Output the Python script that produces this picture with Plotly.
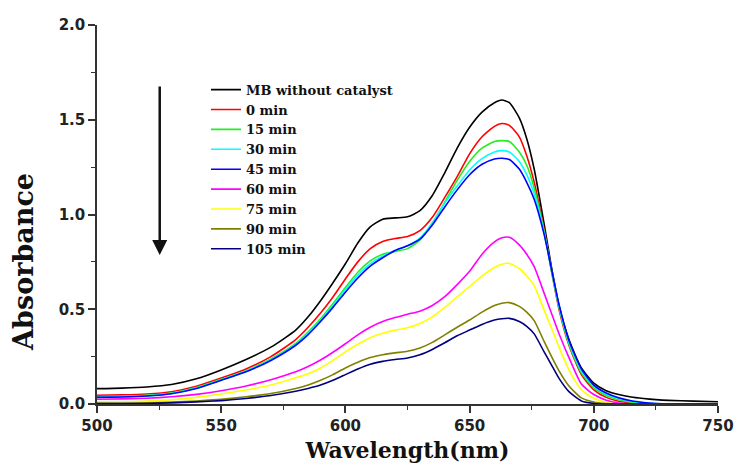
import plotly.graph_objects as go

wavelength = [500, 510, 520, 530, 540, 550, 560, 570, 580, 585, 590, 595, 600, 605, 610, 615,
              620, 625, 630, 635, 640, 645, 650, 655, 660, 663, 666, 670, 673, 676, 680, 683,
              686, 690, 695, 700, 705, 710, 715, 720, 725, 730, 740, 750]

mb_without_catalyst = [0.081, 0.084, 0.090, 0.103, 0.133, 0.18, 0.235, 0.30, 0.39, 0.46, 0.545, 0.64,
                       0.74, 0.85, 0.935, 0.975, 0.982, 0.988, 1.02, 1.10, 1.22, 1.35, 1.46, 1.54,
                       1.59, 1.604, 1.59, 1.51, 1.40, 1.24, 0.95, 0.72, 0.52, 0.34, 0.19, 0.11,
                       0.07, 0.05, 0.037, 0.029, 0.023, 0.019, 0.015, 0.012]
min_0 = [0.046, 0.048, 0.053, 0.065, 0.094, 0.137, 0.185, 0.25, 0.34, 0.405, 0.48, 0.565,
         0.66, 0.75, 0.82, 0.858, 0.873, 0.884, 0.915, 0.985, 1.09, 1.20, 1.32, 1.41,
         1.465, 1.48, 1.47, 1.41, 1.31, 1.17, 0.92, 0.70, 0.50, 0.31, 0.155, 0.075,
         0.035, 0.015, 0.006, 0.002, 0.0, 0.0, 0.0, 0.0]
min_15 = [0.039, 0.041, 0.046, 0.058, 0.087, 0.13, 0.176, 0.238, 0.32, 0.38, 0.45, 0.53,
          0.615, 0.695, 0.755, 0.79, 0.805, 0.82, 0.865, 0.955, 1.065, 1.18, 1.28, 1.35,
          1.385, 1.39, 1.385, 1.33, 1.26, 1.14, 0.91, 0.70, 0.51, 0.315, 0.165, 0.085,
          0.045, 0.022, 0.009, 0.003, 0.0, 0.0, 0.0, 0.0]
min_30 = [0.036, 0.038, 0.043, 0.055, 0.084, 0.127, 0.173, 0.234, 0.315, 0.373, 0.442, 0.52,
          0.603, 0.68, 0.74, 0.78, 0.81, 0.835, 0.875, 0.955, 1.06, 1.15, 1.235, 1.295,
          1.33, 1.337, 1.33, 1.28, 1.21, 1.11, 0.905, 0.705, 0.515, 0.325, 0.175, 0.095,
          0.053, 0.03, 0.015, 0.006, 0.002, 0.0, 0.0, 0.0]
min_45 = [0.035, 0.037, 0.042, 0.054, 0.082, 0.125, 0.17, 0.23, 0.31, 0.366, 0.435, 0.51,
          0.59, 0.665, 0.728, 0.772, 0.81, 0.835, 0.87, 0.945, 1.04, 1.13, 1.21, 1.265,
          1.293, 1.297, 1.29, 1.24, 1.17, 1.08, 0.895, 0.71, 0.525, 0.335, 0.185, 0.10,
          0.058, 0.033, 0.017, 0.008, 0.003, 0.0, 0.0, 0.0]
min_60 = [0.025, 0.027, 0.030, 0.038, 0.051, 0.07, 0.095, 0.128, 0.17, 0.198, 0.232, 0.273,
          0.318, 0.365, 0.405, 0.435, 0.456, 0.474, 0.49, 0.52, 0.566, 0.63, 0.70, 0.79,
          0.855, 0.877, 0.88, 0.84, 0.79, 0.725, 0.585, 0.478, 0.371, 0.245, 0.105, 0.05,
          0.02, 0.005, 0.0, 0.0, 0.0, 0.0, 0.0, 0.0]
min_75 = [0.011, 0.012, 0.015, 0.022, 0.035, 0.053, 0.074, 0.10, 0.138, 0.16, 0.19, 0.23,
          0.275, 0.315, 0.35, 0.373, 0.39, 0.402, 0.425, 0.46, 0.51, 0.565, 0.62, 0.675,
          0.72, 0.738, 0.742, 0.715, 0.675, 0.625, 0.495, 0.40, 0.30, 0.18, 0.075, 0.03,
          0.008, 0.0, 0.0, 0.0, 0.0, 0.0, 0.0, 0.0]
min_90 = [0.004, 0.004, 0.006, 0.010, 0.016, 0.025, 0.038, 0.055, 0.082, 0.10, 0.125, 0.155,
          0.19, 0.22, 0.245, 0.26, 0.27, 0.278, 0.295, 0.325, 0.365, 0.405, 0.443, 0.485,
          0.52, 0.532, 0.535, 0.515, 0.485, 0.44, 0.33, 0.25, 0.175, 0.095, 0.032, 0.01,
          0.002, 0.0, 0.0, 0.0, 0.0, 0.0, 0.0, 0.0]
min_105 = [0.002, 0.002, 0.003, 0.006, 0.011, 0.018, 0.029, 0.045, 0.067, 0.082, 0.10, 0.125,
           0.155, 0.185, 0.21, 0.225, 0.235, 0.243, 0.26, 0.288, 0.323, 0.36, 0.39, 0.42,
           0.443, 0.45, 0.452, 0.435, 0.41, 0.37, 0.275, 0.205, 0.135, 0.065, 0.016, 0.003,
           0.0, 0.0, 0.0, 0.0, 0.0, 0.0, 0.0, 0.0]

series_names = ["MB without catalyst", "0 min", "15 min", "30 min", "45 min",
                "60 min", "75 min", "90 min", "105 min"]
series_values = [mb_without_catalyst, min_0, min_15, min_30, min_45,
                 min_60, min_75, min_90, min_105]
series_colors = ["#000000", "#ff0000", "#22ee22", "#00ffff", "#0000ff",
                 "#ff00ff", "#ffff00", "#808000", "#000080"]

x_ticks = [500, 550, 600, 650, 700, 750]
y_ticks = [0.0, 0.5, 1.0, 1.5, 2.0]

fig = go.Figure()
for name, vals, col in zip(series_names, series_values, series_colors):
    fig.add_trace(go.Scatter(x=wavelength, y=vals, name=name, mode="lines",
                             line=dict(color=col, width=1.6, shape="spline", smoothing=0.6)))

axis_font = dict(family="DejaVu Sans", size=15, color="#222222", weight="bold")
fig.update_layout(
    width=736, height=463,
    margin=dict(l=97, r=18, t=25, b=59),
    paper_bgcolor="white", plot_bgcolor="white",
    showlegend=True,
    legend=dict(x=0.1755, y=0.869, xanchor="left", yanchor="top",
                font=dict(family="DejaVu Serif", size=13, color="#111111", weight="bold"),
                bgcolor="rgba(0,0,0,0)", tracegroupgap=0),
    xaxis=dict(range=[500, 750], tickvals=x_ticks, ticktext=[str(v) for v in x_ticks],
               automargin=False,
               showline=True, linecolor="#333333", linewidth=1.5, mirror=False,
               ticks="outside", ticklen=7, tickwidth=1.5, tickcolor="#333333",
               minor=dict(ticks="outside", ticklen=4, dtick=25, tickcolor="#333333", tickwidth=1.2),
               showgrid=False, zeroline=False, tickfont=axis_font,
               title=dict(text="Wavelength(nm)", standoff=29,
                          font=dict(family="DejaVu Serif", size=22, color="#111111", weight="bold"))),
    yaxis=dict(range=[0, 2], tickvals=y_ticks, ticktext=["%.1f" % v for v in y_ticks],
               automargin=False,
               showline=True, linecolor="#333333", linewidth=1.5, mirror=False,
               ticks="outside", ticklen=7, tickwidth=1.5, tickcolor="#333333",
               minor=dict(ticks="outside", ticklen=4, dtick=0.25, tickcolor="#333333", tickwidth=1.2),
               showgrid=False, zeroline=False, tickfont=axis_font),
)

# y-axis title, placed lower than the axis centre as in the reference
fig.add_annotation(text="Absorbance", textangle=-90, xref="paper", yref="paper",
                   x=0, y=0.375, xanchor="center", yanchor="middle", xshift=-73,
                   showarrow=False,
                   font=dict(family="DejaVu Serif", size=27, color="#111111", weight="bold"))

# downward arrow beside the legend
fig.add_annotation(x=0.101, y=0.393, xref="paper", yref="paper", ax=0, ay=-170,
                   showarrow=True, arrowhead=2, arrowsize=1.2, arrowwidth=2.5,
                   arrowcolor="#111111", text="")

fig.write_html("out.html", config={"displayModeBar": False},
               post_script="document.body.style.margin='0';")
